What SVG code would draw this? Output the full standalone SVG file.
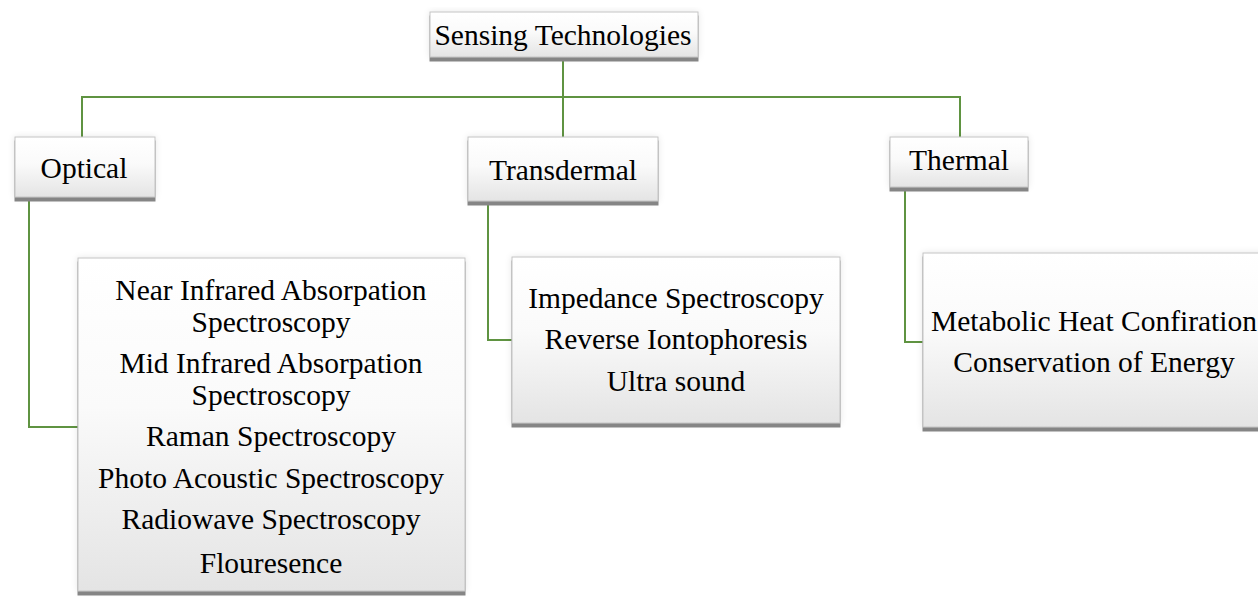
<svg xmlns="http://www.w3.org/2000/svg" width="1258" height="597" viewBox="0 0 1258 597">
  <style>
    .box { fill: url(#boxFill); stroke: #c4c4c4; stroke-width: 1; filter: url(#lift); }
    .lbl { font-family: "Liberation Serif", "Times New Roman", serif; font-size: 29.5px; fill: #000; text-anchor: middle; }
    .link { fill: none; stroke: #5f9341; stroke-width: 2; }
  </style>
  <defs>
    <linearGradient id="boxFill" x1="0" y1="0" x2="0" y2="1">
      <stop offset="0" stop-color="#ffffff"/>
      <stop offset="0.45" stop-color="#fafafa"/>
      <stop offset="1" stop-color="#e4e4e4"/>
    </linearGradient>
    <!-- soft halo plus a dark band under each box -->
    <filter id="lift" x="-10%" y="-10%" width="120%" height="130%">
      <feGaussianBlur in="SourceAlpha" stdDeviation="3" result="blur"/>
      <feFlood flood-color="#000" flood-opacity="0.10"/>
      <feComposite in2="blur" operator="in" result="halo"/>
      <feOffset in="SourceAlpha" dy="4" result="off"/>
      <feFlood flood-color="#858585"/>
      <feComposite in2="off" operator="in" result="band"/>
      <feMerge>
        <feMergeNode in="halo"/>
        <feMergeNode in="band"/>
        <feMergeNode in="SourceGraphic"/>
      </feMerge>
    </filter>
  </defs>

  <rect width="1258" height="597" fill="#ffffff"/>

  <g id="connectors">
    <path class="link" d="M563 57 V97"/>
    <path class="link" d="M82 97 H960"/>
    <path class="link" d="M82 96 V137"/>
    <path class="link" d="M563 96 V137"/>
    <path class="link" d="M960 96 V137"/>
    <path class="link" d="M29 197 V427 H78"/>
    <path class="link" d="M488 201 V340 H512"/>
    <path class="link" d="M905 187 V342 H923"/>
  </g>

  <g id="sensing-technologies">
    <rect class="box" x="430" y="12" width="268" height="45"/>
    <text class="lbl" x="563" y="45">Sensing Technologies</text>
  </g>

  <g id="optical">
    <rect class="box" x="15" y="137" width="140" height="60"/>
    <text class="lbl" x="84" y="178">Optical</text>
  </g>

  <g id="transdermal">
    <rect class="box" x="468" y="137" width="190" height="64"/>
    <text class="lbl" x="563" y="180">Transdermal</text>
  </g>

  <g id="thermal">
    <rect class="box" x="890" y="137" width="138" height="50"/>
    <text class="lbl" x="959" y="170">Thermal</text>
  </g>

  <g id="optical-methods">
    <rect class="box" x="78" y="258" width="387" height="333"/>
    <text class="lbl" x="271" y="300">Near Infrared Absorpation</text>
    <text class="lbl" x="271" y="332">Spectroscopy</text>
    <text class="lbl" x="271" y="373">Mid Infrared Absorpation</text>
    <text class="lbl" x="271" y="405">Spectroscopy</text>
    <text class="lbl" x="271" y="446">Raman Spectroscopy</text>
    <text class="lbl" x="271" y="488">Photo Acoustic Spectroscopy</text>
    <text class="lbl" x="271" y="529">Radiowave Spectroscopy</text>
    <text class="lbl" x="271" y="573">Flouresence</text>
  </g>

  <g id="transdermal-methods">
    <rect class="box" x="512" y="257" width="328" height="166"/>
    <text class="lbl" x="676" y="308">Impedance Spectroscopy</text>
    <text class="lbl" x="676" y="349">Reverse Iontophoresis</text>
    <text class="lbl" x="676" y="391">Ultra sound</text>
  </g>

  <g id="thermal-methods">
    <rect class="box" x="923" y="253" width="345" height="174"/>
    <text class="lbl" x="1094" y="331">Metabolic Heat Confiration</text>
    <text class="lbl" x="1094" y="372">Conservation of Energy</text>
  </g>
</svg>
